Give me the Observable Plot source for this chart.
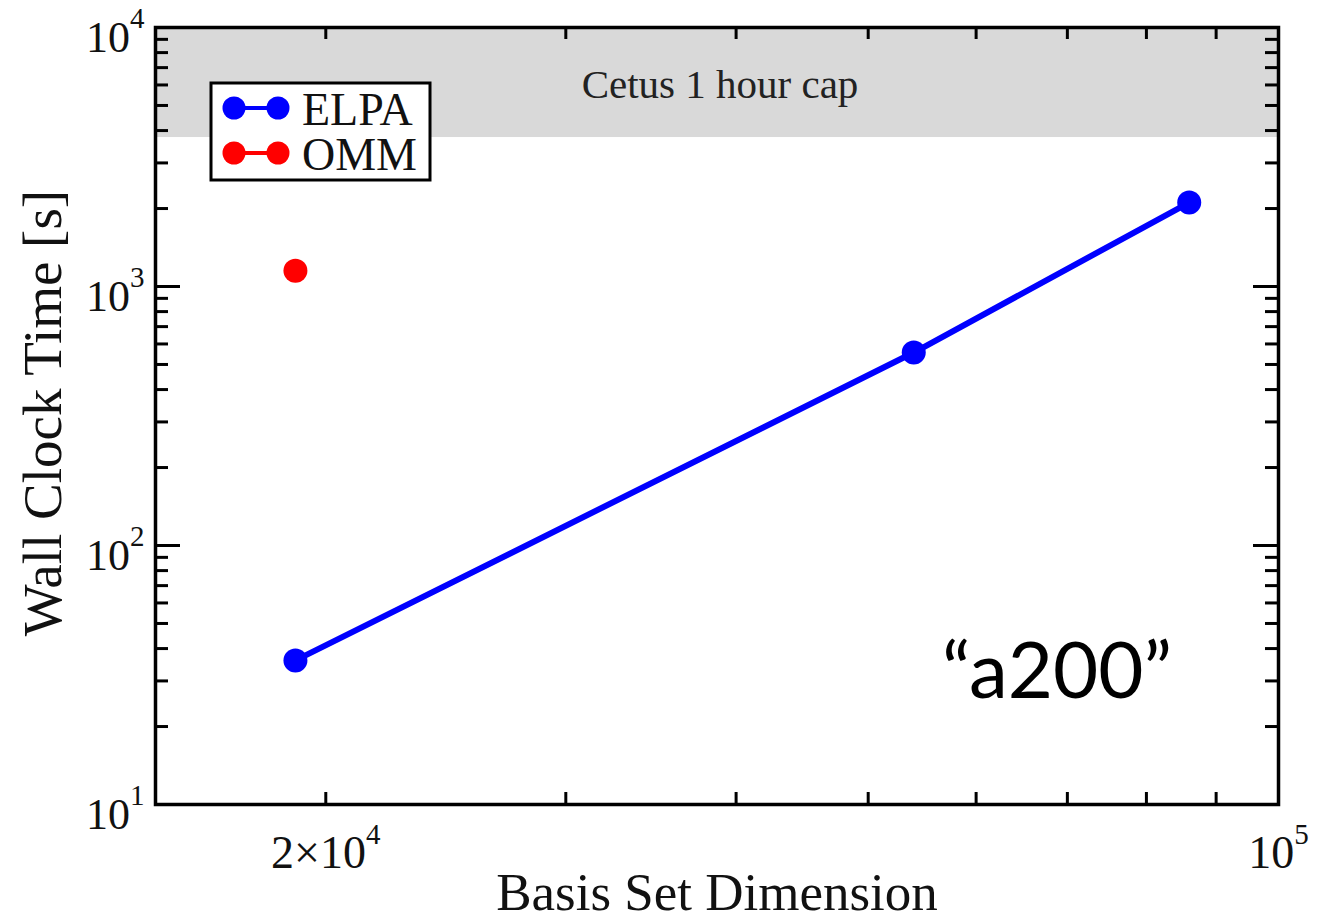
<!DOCTYPE html>
<html><head><meta charset="utf-8">
<script src="https://cdn.jsdelivr.net/npm/d3@7"></script>
<script src="https://cdn.jsdelivr.net/npm/@observablehq/plot@0.6"></script>
<style>body{margin:0;background:#fff;overflow:hidden}</style>
</head><body><div id="chart"></div>
<script>
// ---- data ----
const seriesNames = ["ELPA", "OMM"];
const seriesColors = ["#0000ff", "#ff0000"];
const elpaX = [19000, 54000, 86000];
const elpaY = [36, 556, 2110];
const ommX = [19000];
const ommY = [1150];
const capLow = 3760;            // lower edge of "Cetus 1 hour cap" band (s)
const capLabel = "Cetus 1 hour cap";
const annotation = "\u201Ca200\u201D";
const xDomain = [15000, 100000];
const yDomain = [10, 10000];
const xMinor = [20000, 30000, 40000, 50000, 60000, 70000, 80000, 90000];
const yMajor = [10, 100, 1000, 10000];
const yMinor = [20,30,40,50,60,70,80,90,200,300,400,500,600,700,800,900,2000,3000,4000,5000,6000,7000,8000,9000];
const xLabelVals = [20000, 100000];
const xLabels = ["2\u00D710^4", "10^5"];
const yLabels = ["10^1", "10^2", "10^3", "10^4"];
const xTitle = "Basis Set Dimension";
const yTitle = "Wall Clock Time [s]";

const elpa = elpaX.map((x, i) => ({x, y: elpaY[i]}));
const omm = ommX.map((x, i) => ({x, y: ommY[i]}));

// ---- layout ----
const W = 1332, H = 921, mL = 155, mR = 54, mT = 27, mB = 117;
const pw = W - mL - mR, ph = H - mT - mB;
const serif = "'Liberation Serif', 'Times New Roman', serif";

const svg = Plot.plot({
  width: W, height: H,
  marginLeft: mL, marginRight: mR, marginTop: mT, marginBottom: mB,
  x: {type: "log", domain: xDomain, axis: null},
  y: {type: "log", domain: yDomain, axis: null},
  style: {background: "white", fontFamily: serif},
  marks: [
    Plot.rect([{y1: capLow, y2: yDomain[1]}], {x1: () => xDomain[0], x2: () => xDomain[1], y1: "y1", y2: "y2", fill: "#d9d9d9"}),
    Plot.text([capLabel], {frameAnchor: "top", dx: 3, dy: 70, textAnchor: "middle", lineAnchor: "bottom", fontSize: 41, fill: "#222", fontFamily: serif}),
    // ticks
    Plot.ruleX(xMinor, {x: d => d, insetTop: ph - 12, stroke: "black", strokeWidth: 3}),
    Plot.ruleX(xMinor, {x: d => d, insetBottom: ph - 12, stroke: "black", strokeWidth: 3}),
    Plot.ruleY(yMinor, {y: d => d, insetRight: pw - 13, stroke: "black", strokeWidth: 3}),
    Plot.ruleY(yMinor, {y: d => d, insetLeft: pw - 13, stroke: "black", strokeWidth: 3}),
    Plot.ruleY(yMajor, {y: d => d, insetRight: pw - 25, stroke: "black", strokeWidth: 3}),
    Plot.ruleY(yMajor, {y: d => d, insetLeft: pw - 25, stroke: "black", strokeWidth: 3}),
    Plot.frame({stroke: "black", strokeWidth: 3.5}),
    // tick labels
    Plot.text(yMajor, {y: d => d, text: (d, i) => yLabels[i], frameAnchor: "left", dx: -11, dy: 10, textAnchor: "end", lineAnchor: "middle", fontSize: 44, fill: "#111", fontFamily: serif}),
    Plot.text(xLabelVals, {x: d => d, text: (d, i) => xLabels[i], frameAnchor: "bottom", dy: 63, textAnchor: "middle", lineAnchor: "bottom", fontSize: 46, fill: "#111", fontFamily: serif}),
    // axis titles
    Plot.text([xTitle], {frameAnchor: "bottom", dy: 105, textAnchor: "middle", lineAnchor: "bottom", fontSize: 53, fill: "#111", fontFamily: serif}),
    Plot.text([yTitle], {frameAnchor: "left", dx: -95, dy: -3, rotate: -90, textAnchor: "middle", lineAnchor: "bottom", fontSize: 55, fill: "#111", fontFamily: serif}),
    // data
    Plot.line(elpa, {x: "x", y: "y", stroke: seriesColors[0], strokeWidth: 6}),
    Plot.dot(elpa, {x: "x", y: "y", r: 12, fill: seriesColors[0]}),
    Plot.dot(omm, {x: "x", y: "y", r: 12, fill: seriesColors[1]}),
    // annotation
    Plot.text([annotation], {frameAnchor: "bottom", dx: 340, dy: -107, textAnchor: "middle", lineAnchor: "bottom", fontSize: 78, fill: "#000", fontFamily: "Lato, 'Open Sans', sans-serif"})
  ]
});

// superscript exponents in tick labels ("10^4" -> 10 with raised 4)
d3.select(svg).selectAll("text").each(function () {
  const t = d3.select(this);
  const s = t.text();
  if (!s.includes("^")) return;
  const [base, exp] = s.split("^");
  t.text(null);
  t.append("tspan").text(base);
  t.append("tspan").attr("font-size", 29).attr("dy", -24).text(exp);
});

// legend
const lg = d3.select(svg).append("g").attr("font-family", serif).attr("text-anchor", "start");
lg.append("rect").attr("x", 211).attr("y", 83).attr("width", 219).attr("height", 97)
  .attr("fill", "white").attr("stroke", "black").attr("stroke-width", 3);
seriesNames.forEach((name, i) => {
  const cy = 108 + i * 45;
  const g = lg.append("g");
  g.append("line").attr("x1", 234).attr("x2", 278).attr("y1", cy).attr("y2", cy)
    .attr("stroke", seriesColors[i]).attr("stroke-width", 4);
  g.append("circle").attr("cx", 234).attr("cy", cy).attr("r", 11.5).attr("fill", seriesColors[i]);
  g.append("circle").attr("cx", 278).attr("cy", cy).attr("r", 11.5).attr("fill", seriesColors[i]);
  g.append("text").attr("x", 302).attr("y", cy + 17).attr("font-size", 46).attr("fill", "#111").text(name);
});

document.getElementById("chart").append(svg);
</script>
</body></html>
